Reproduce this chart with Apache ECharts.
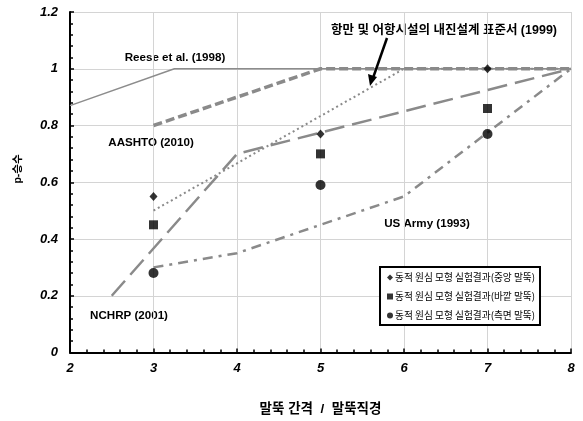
<!DOCTYPE html>
<html><head><meta charset="utf-8">
<script src="https://cdn.jsdelivr.net/npm/echarts@6/dist/echarts.min.js"></script>
<style>html,body{margin:0;padding:0;background:#fff}#c{width:583px;height:421px}</style>
</head><body><div id="c"></div>
<script>
var xTicks = [2, 3, 4, 5, 6, 7, 8];
var yTicks = [0, 0.2, 0.4, 0.6, 0.8, 1, 1.2];
var reeseX = [2, 3.25, 8];
var reeseY = [0.87, 1.0, 1.0];
var aashtoX = [3, 5, 8];
var aashtoY = [0.8, 1.0, 1.0];
var harborX = [3, 6, 8];
var harborY = [0.5, 1.0, 1.0];
var nchrpX = [2.5, 4, 8];
var nchrpY = [0.2, 0.7, 1.0];
var armyX = [3, 4, 5, 6, 8];
var armyY = [0.3, 0.35, 0.45, 0.55, 1.0];
var testX = [3, 5, 7];
var centerPile = [0.55, 0.77, 1.0];
var outerPile = [0.45, 0.70, 0.86];
var sidePile = [0.28, 0.59, 0.77];
var legendNames = ['동적 원심 모형 실험결과(중앙 말뚝)', '동적 원심 모형 실험결과(바깥 말뚝)', '동적 원심 모형 실험결과(측면 말뚝)'];

function pairs(xs, ys){ return xs.map(function(x,i){ return [x, ys[i]]; }); }
var FONT = "'Liberation Sans', Arial, 'Noto Sans CJK KR', sans-serif";
var grayC = '#8a8a8a';
function lineS(name, xs, ys, type, width, color){
  return {name:name, type:'line', data:pairs(xs,ys), symbol:'none', silent:true,
    lineStyle:{type:type, width:width, color:color, cap:'butt'}, z:2};
}
var chart = echarts.init(document.getElementById('c'));
var annFont = "bold 11.6px " + FONT;
var option = {
  animation:false,
  grid:{left:70, right:12, top:12, bottom:61},
  xAxis:{type:'value', min:2, max:8, interval:1,
    name:'말뚝 간격  /  말뚝직경', nameLocation:'middle', nameGap:50,
    nameTextStyle:{fontFamily:FONT, fontWeight:'bold', fontSize:13.5, color:'#000'},
    axisLine:{lineStyle:{color:'#000', width:2}},
    axisTick:{inside:true, length:4, lineStyle:{color:'#000', width:1.5}},
    minorTick:{show:true, splitNumber:5, length:3, lineStyle:{color:'#000', width:1.5}},
    splitLine:{show:true, lineStyle:{color:'#d4d4d4', width:1}},
    axisLabel:{fontFamily:FONT, fontWeight:'bold', fontStyle:'italic', fontSize:13, color:'#000', margin:9,
      formatter:function(v){ return xTicks.indexOf(v)>=0 ? String(v) : ''; }}
  },
  yAxis:{type:'value', min:0, max:1.2, interval:0.2,
    axisLine:{show:true, lineStyle:{color:'#000', width:2}},
    axisTick:{show:true, inside:true, length:4, lineStyle:{color:'#000', width:1.5}},
    minorTick:{show:true, splitNumber:5, length:3, lineStyle:{color:'#000', width:1.5}},
    splitLine:{show:true, lineStyle:{color:'#d4d4d4', width:1}},
    axisLabel:{fontFamily:FONT, fontWeight:'bold', fontStyle:'italic', fontSize:13, color:'#000', margin:12,
      formatter:function(v){ var r = Math.round(v*10)/10; return String(r); }}
  },
  legend:{orient:'vertical', left:380, top:267, width:162,
    data:legendNames.map(function(n){return {name:n, itemStyle:{color:'#000'}};}),
    borderColor:'#000', borderWidth:2, backgroundColor:'#fff', padding:[5,5,4,7],
    itemGap:8, itemWidth:6, itemHeight:6, itemStyle:{borderWidth:0},
    textStyle:{fontFamily:"'Noto Sans CJK KR', sans-serif", fontSize:9.7, lineHeight:11, color:'#000', padding:[0,0,0,-3]}
  },
  series:[
    lineS('Reese', reeseX, reeseY, 'solid', 1.5, '#8c8c8c'),
    lineS('AASHTO', aashtoX, aashtoY, [9,4], 3.5, grayC),
    lineS('Harbor', harborX, harborY, [2,3], 2, grayC),
    lineS('NCHRP', nchrpX, nchrpY, [20,8], 2.5, grayC),
    lineS('USArmy', armyX, armyY, [10,6,3,6], 2.5, grayC),
    {name:legendNames[0], type:'scatter', data:pairs(testX, centerPile), symbol:'diamond', symbolSize:[8,9], itemStyle:{color:'#000'}, z:5},
    {name:legendNames[1], type:'scatter', data:pairs(testX, outerPile), symbol:'rect', symbolSize:9, itemStyle:{color:'#000'}, z:5},
    {name:legendNames[2], type:'scatter', data:pairs(testX, sidePile), symbol:'circle', symbolSize:10, itemStyle:{color:'#000'}, z:5}
  ],
  graphic:[
    {type:'text', x:18, y:169, rotation:Math.PI/2, style:{text:'p-승수', font:"bold 10.5px "+FONT, fill:'#000', textAlign:'center', textVerticalAlign:'middle'}},
    {type:'text', x:175, y:58, style:{text:'Reese et al. (1998)', font:annFont, fill:'#000', textAlign:'center', textVerticalAlign:'middle'}},
    {type:'text', x:151, y:143, style:{text:'AASHTO (2010)', font:annFont, fill:'#000', textAlign:'center', textVerticalAlign:'middle'}},
    {type:'text', x:444, y:31, style:{text:'항만 및 어항시설의 내진설계 표준서 (1999)', font:"bold 12.5px "+FONT, fill:'#000', textAlign:'center', textVerticalAlign:'middle'}},
    {type:'text', x:427, y:224, style:{text:'US Army (1993)', font:annFont, fill:'#000', textAlign:'center', textVerticalAlign:'middle'}},
    {type:'text', x:129, y:316, style:{text:'NCHRP (2001)', font:annFont, fill:'#000', textAlign:'center', textVerticalAlign:'middle'}},
    {type:'line', shape:{x1:387, y1:38, x2:373, y2:78}, style:{stroke:'#000', lineWidth:2.5}, z:10},
    {type:'polygon', shape:{points:[[370,86],[368,74],[377,77]]}, style:{fill:'#000'}, z:10}
  ]
};
chart.setOption(option);
</script></body></html>
